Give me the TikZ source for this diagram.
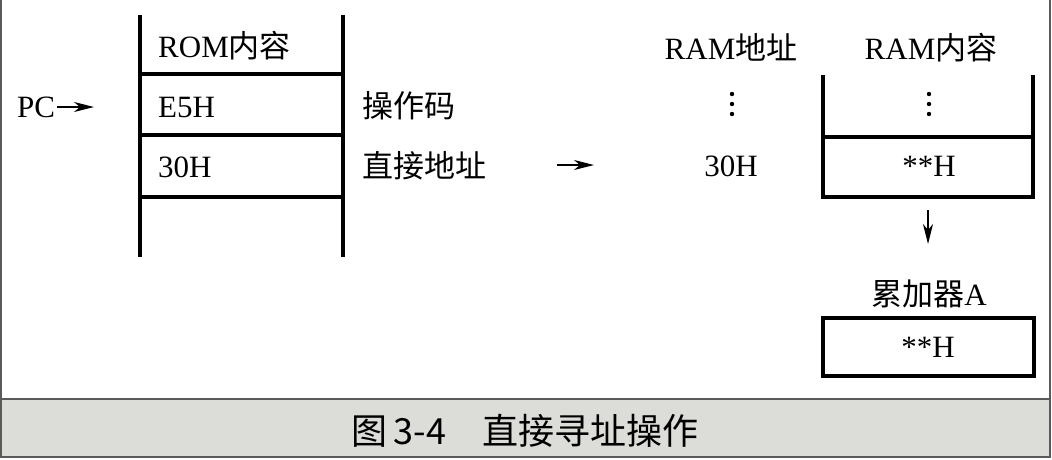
\documentclass[tikz,border=0pt]{standalone}
\usepackage{fontspec}
\setmainfont{Liberation Serif}
\newfontfamily\cjk{Noto Sans CJK SC}
\usetikzlibrary{arrows.meta}
\definecolor{bandfill}{HTML}{DCDCD8}
\definecolor{framecol}{HTML}{5A5A5A}
\begin{document}
\begin{tikzpicture}[x=1pt,y=-1pt,
  tbl/.style={line width=3.2pt, line cap=rect},
  lbl/.style={font=\fontsize{31}{33}\selectfont, inner sep=0pt},
  captxt/.style={font=\cjk\fontsize{36}{38}\selectfont, inner sep=0pt},
  dotmark/.style={fill=black},
  arr/.style={line width=1.5pt, -{Stealth[length=20pt,width=10pt,inset=6pt]}}]
\useasboundingbox (0,0) rectangle (1052,459);
% frame and caption band
\fill[bandfill] (1,399) rectangle (1050,457);
\draw[framecol, line width=2pt] (1,0) -- (1,457) -- (1050,457) -- (1050,0);
\draw[framecol, line width=2pt] (1,399) -- (1050,399);
\node[captxt, anchor=base] (caption) at (525,444) {图\,3-4\quad 直接寻址操作};
% ROM table
\draw[tbl] (140,17) -- (140,255);
\draw[tbl] (343,17) -- (343,255);
\draw[tbl] (140,74) -- (343,74);
\draw[tbl] (140,135) -- (343,135);
\draw[tbl] (140,197) -- (343,197);
\node[lbl, anchor=base west] (rom) at (158,57) {ROM{\cjk 内容}};
\node[lbl, anchor=base west] (e5h) at (158,117) {E5H};
\node[lbl, anchor=base west] (r30h) at (158,177) {30H};
\node[lbl, anchor=base west] (pc) at (17,117) {PC};
\coordinate (pcstart) at (57,107);
\coordinate (pcend) at (94,107);
\draw[arr] (pcstart) -- (pcend);
\node[lbl, anchor=base west] (opc) at (362,117) {\cjk 操作码};
\node[lbl, anchor=base west] (dir) at (362,177) {\cjk 直接地址};
% middle arrow
\coordinate (ma) at (557,165);
\coordinate (mb) at (594,165);
\draw[arr] (ma) -- (mb);
% RAM address column
\node[lbl, anchor=base] (ramaddr) at (731,59) {RAM{\cjk 地址}};
\foreach \yy in {94,104,114} \fill[dotmark] (732,\yy) circle (2.2pt);
\node[lbl, anchor=base] (a30h) at (731,176) {30H};
% RAM content table
\draw[tbl] (823,77) -- (823,197) -- (1033,197) -- (1033,77);
\draw[tbl] (823,137) -- (1033,137);
\node[lbl, anchor=base] (ramcont) at (931,59) {RAM{\cjk 内容}};
\foreach \yy in {94,104,114} \fill[dotmark] (929,\yy) circle (2.2pt);
\node[lbl, anchor=base] (cval) at (929,176) {**H};
% down arrow
\coordinate (da) at (928,210);
\coordinate (db) at (928,244);
\draw[arr] (da) -- (db);
% accumulator
\node[lbl, anchor=base] (acclbl) at (929,305) {{\cjk 累加器}A};
\node[draw, line width=3.4pt, minimum width=211pt, minimum height=58pt, inner sep=0pt] (acc) at (928.5,347) {};
\node[lbl, anchor=base] (aval) at (928,357) {**H};
\end{tikzpicture}
\end{document}
